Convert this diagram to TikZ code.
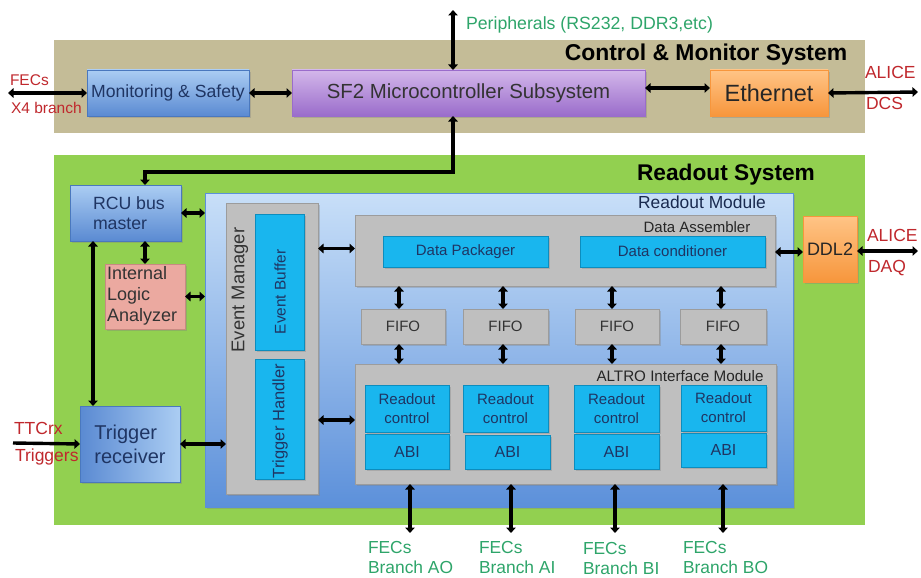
\documentclass[tikz,border=0pt]{standalone}
\usepackage{fontspec}
\setmainfont{Liberation Sans}
\usetikzlibrary{arrows.meta,shadows}
\definecolor{tanbg}{HTML}{C4BC97}
\definecolor{greenbg}{HTML}{92D050}
\definecolor{blueT}{HTML}{ABCDF3}
\definecolor{blueB}{HTML}{5A8AD2}
\definecolor{blueD}{HTML}{4A78BE}
\definecolor{romT}{HTML}{C8DFF8}
\definecolor{romB}{HTML}{5C90DA}
\definecolor{purT}{HTML}{D3B7EA}
\definecolor{purB}{HTML}{9A6CCB}
\definecolor{oraT}{HTML}{FFC486}
\definecolor{oraB}{HTML}{F7963C}
\definecolor{grayF}{HTML}{BFBFBF}
\definecolor{grayD}{HTML}{9C9C9C}
\definecolor{cyanF}{HTML}{19B6EE}
\definecolor{cyanD}{HTML}{0C8DBE}
\definecolor{pinkF}{HTML}{EBA9A0}
\definecolor{pinkD}{HTML}{C98A82}
\definecolor{navy}{HTML}{1F3563}
\definecolor{redtxt}{HTML}{C0282D}
\definecolor{greentxt}{HTML}{2EA56A}
\definecolor{darktxt}{HTML}{333333}
\begin{document}
\begin{tikzpicture}[x=1pt,y=-1pt,
  every node/.style={inner sep=0pt, outer sep=0pt},
  shad/.style={drop shadow={shadow xshift=2pt, shadow yshift=-2pt, opacity=0.35}},
  bg/.style={rectangle},
  bluebox/.style={rectangle, shad, top color=blueT, bottom color=blueB, draw=blueD, line width=0.6pt},
  trgbox/.style={rectangle, shad, left color=blueB, right color=blueT, draw=blueD, line width=0.6pt},
  purbox/.style={rectangle, shad, top color=purT, bottom color=purB, draw=purB, line width=0.6pt},
  orabox/.style={rectangle, shad, top color=oraT, bottom color=oraB, draw=oraB, line width=0.6pt},
  romstyle/.style={rectangle, shad, top color=romT, bottom color=romB, draw=romB, line width=0.6pt},
  graybox/.style={rectangle, shad, fill=grayF, draw=grayD, line width=0.8pt},
  cyanbox/.style={rectangle, shad, fill=cyanF, draw=cyanD, line width=0.8pt, text=navy, font=\fontsize{15}{19}\selectfont, align=center},
  pinkbox/.style={rectangle, shad, fill=pinkF, draw=pinkD, line width=0.6pt},
  biarrow/.style={line width=3.4pt, {Triangle[length=5.5pt,width=9.5pt]}-{Triangle[length=5.5pt,width=9.5pt]}},
  onearrow/.style={line width=3.4pt, -{Triangle[length=5.5pt,width=9.5pt]}},
  redlbl/.style={text=redtxt, font=\fontsize{17.5}{20}\selectfont},
  redlbls/.style={text=redtxt, font=\fontsize{15.5}{18}\selectfont},
  greenlbl/.style={text=greentxt, font=\fontsize{17.4}{20.5}\selectfont, align=left},
]
\useasboundingbox (0,0) rectangle (921,578);
\fill[white] (0,0) rectangle (921,578);

% backgrounds
\node[bg, fill=tanbg, minimum width=811pt, minimum height=93pt] (cms) at (459.5,86.5) {};
\node[bg, fill=greenbg, minimum width=811pt, minimum height=370pt] (ros) at (459.5,340) {};
\node[font=\bfseries\fontsize{22.9}{25}\selectfont] (cmst) at (706,55) {Control \& Monitor System};
\node[font=\bfseries\fontsize{22.7}{25}\selectfont] (rost) at (726,175) {Readout System};

% control & monitor
\node[bluebox, minimum width=162pt, minimum height=46pt, text=navy, font=\fontsize{17.6}{20}\selectfont] (mon) at (168,93) {Monitoring \& Safety};
\node[purbox, minimum width=353pt, minimum height=46pt, text=darktxt, font=\fontsize{20.4}{23}\selectfont] (sf2) at (468.5,93) {SF2 Microcontroller Subsystem};
\node[orabox, minimum width=118pt, minimum height=46pt, text=black!85, font=\fontsize{23.5}{25}\selectfont] (eth) at (769,93) {Ethernet};

\node[greenlbl, font=\fontsize{17.7}{20}\selectfont] (peri) at (589.5,25) {Peripherals (RS232, DDR3,etc)};
\node[redlbls, anchor=west] (fecl1) at (10,80) {FECs};
\node[redlbls, anchor=west] (fecl2) at (11,108) {X4 branch};
\node[redlbl, anchor=west] (alice1) at (865,72) {ALICE};
\node[redlbl, anchor=west] (dcs) at (866,103) {DCS};

\coordinate (fecend) at (8,93);
\coordinate (dcsend) at (918,92);
\coordinate (periend) at (453,10);
\coordinate (bend) at (145,172);

% readout system left
\node[bluebox, minimum width=111pt, minimum height=56pt] (rcu) at (125.5,213) {};
\node[anchor=west, text=navy, font=\fontsize{17.7}{20.5}\selectfont, align=left] (rcut) at (93,213) {RCU bus\\master};
\node[pinkbox, minimum width=80pt, minimum height=65pt] (ila) at (145,296.5) {};
\node[anchor=west, text=darktxt, font=\fontsize{18}{21}\selectfont, align=left] (ilat) at (107,295.5) {Internal\\Logic\\Analyzer};
\node[trgbox, minimum width=100pt, minimum height=76pt, text=navy, font=\fontsize{20}{24}\selectfont, align=left] (trg) at (130,444) {Trigger\\receiver};
\node[redlbl, anchor=west] (ttc) at (14,428) {TTCrx};
\node[redlbl, anchor=west] (trgl) at (15,457) {Triggers};
\coordinate (ttcend) at (13,443);

% readout module
\node[romstyle, minimum width=588pt, minimum height=314pt] (rom) at (499,350) {};
\node[text=navy!80!black, font=\fontsize{17.4}{19}\selectfont] (romt) at (702,202) {Readout Module};

\node[graybox, minimum width=92pt, minimum height=291pt] (em) at (272,348.5) {};
\node[rotate=90, text=darktxt, font=\fontsize{18.4}{20}\selectfont] (emt) at (240,290) {Event Manager};
\node[cyanbox, minimum width=49pt, minimum height=136pt] (eb) at (279.5,282) {};
\node[rotate=90, text=navy, font=\fontsize{15.4}{17}\selectfont] (ebt) at (280,292) {Event Buffer};
\node[cyanbox, minimum width=49pt, minimum height=120pt] (th) at (279.5,419) {};
\node[rotate=90, text=navy, font=\fontsize{16.5}{18}\selectfont] (tht) at (280,421) {Trigger Handler};

\node[graybox, minimum width=420pt, minimum height=71pt] (da) at (565,250.5) {};
\node[font=\fontsize{15}{17}\selectfont, text=black!85] (dat) at (697,227) {Data Assembler};
\node[cyanbox, minimum width=165pt, minimum height=31pt] (dp) at (465.5,251.5) {Data Packager};
\node[cyanbox, minimum width=185pt, minimum height=31pt] (dc) at (672.5,251.5) {Data conditioner};

\node[orabox, minimum width=54pt, minimum height=66pt, font=\fontsize{18}{20}\selectfont, text=black!85] (ddl) at (830,249) {DDL2};
\node[redlbl, anchor=west] (alice2) at (867,235) {ALICE};
\node[redlbl, anchor=west] (daq) at (868,268) {DAQ};
\coordinate (daqend) at (918,251);

\foreach \n/\cx/\w in {fifo1/403/84, fifo2/505.5/85, fifo3/617/84, fifo4/723/86}
  \node[graybox, minimum width=\w pt, minimum height=35pt, text=darktxt, font=\fontsize{15}{17}\selectfont] (\n) at (\cx,326.5) {FIFO};

\node[graybox, minimum width=421pt, minimum height=120pt] (aim) at (565.5,424) {};
\node[font=\fontsize{15.2}{17}\selectfont, text=black!85] (aimt) at (680,376) {ALTRO Interface Module};

\node[cyanbox, minimum width=84pt, minimum height=47pt] (rc1) at (407,408.5) {Readout\\control};
\node[cyanbox, minimum width=84pt, minimum height=35pt, font=\fontsize{16}{18}\selectfont] (abi1) at (407,451.5) {ABI};
\node[cyanbox, minimum width=85pt, minimum height=47pt] (rc2) at (505.5,408.5) {Readout\\control};
\node[cyanbox, minimum width=85pt, minimum height=34pt, font=\fontsize{16}{18}\selectfont] (abi2) at (507.5,452) {ABI};
\node[cyanbox, minimum width=85pt, minimum height=47pt] (rc3) at (616.5,408.5) {Readout\\control};
\node[cyanbox, minimum width=85pt, minimum height=35pt, font=\fontsize{16}{18}\selectfont] (abi3) at (616.5,451.5) {ABI};
\node[cyanbox, minimum width=85pt, minimum height=46pt] (rc4) at (723.5,408) {Readout\\control};
\node[cyanbox, minimum width=85pt, minimum height=34pt, font=\fontsize{16}{18}\selectfont] (abi4) at (723.5,450) {ABI};

% FEC labels and arrow ends
\node[greenlbl, anchor=north west] (fa) at (368,541) {FECs\\Branch AO};
\node[greenlbl, anchor=north west] (fb) at (479,541) {FECs\\Branch AI};
\node[greenlbl, anchor=north west] (fc) at (583,542) {FECs\\Branch BI};
\node[greenlbl, anchor=north west] (fd) at (683,541) {FECs\\Branch BO};
\coordinate (ea) at (410,533);
\coordinate (eb2) at (511,533);
\coordinate (ec) at (615,533);
\coordinate (ed) at (723,533);

% connectors
\draw[biarrow] (fecend) -- (mon.west);
\draw[biarrow] (mon.east) -- (sf2.west);
\draw[biarrow] ([yshift=5pt]sf2.east) -- ([yshift=5pt]eth.west);
\draw[biarrow] (eth.east) -- (dcsend);
\draw[biarrow] (periend) -- (periend |- sf2.north);
\draw[biarrow] (periend |- sf2.south) |- (bend) -- (bend |- rcu.north);
\draw[biarrow] (ila.north) -- (ila.north |- rcu.south);
\draw[biarrow] (rcu.east) -- (rcu.east -| rom.west);
\draw[biarrow] (ila.east) -- (ila.east -| rom.west);
\draw[biarrow] (rcu.south -| 93,0) -- (trg.north -| 93,0);
\draw[onearrow] (ttcend) -- (trg.west);
\draw[biarrow] (trg.east) -- (trg.east -| em.west);
\draw[biarrow] ([yshift=2pt]da.west -| em.east) -- ([yshift=2pt]da.west);
\draw[biarrow] ([yshift=4pt]aim.west -| em.east) -- ([yshift=4pt]aim.west);
\draw[biarrow] ([yshift=-1.5pt]da.east) -- ([yshift=-1.5pt]da.east -| ddl.west);
\draw[biarrow] (ddl.east |- daqend) -- (daqend);
\foreach \f/\x in {fifo1/399, fifo2/503, fifo3/612, fifo4/721}{
  \draw[biarrow] (\f.north -| \x,0) -- (da.south -| \x,0);
  \draw[biarrow] (\f.south -| \x,0) -- (aim.north -| \x,0);
}
\draw[biarrow] (aim.south -| ea) -- (ea);
\draw[biarrow] (aim.south -| eb2) -- (eb2);
\draw[biarrow] (aim.south -| ec) -- (ec);
\draw[biarrow] (aim.south -| ed) -- (ed);
\end{tikzpicture}
\end{document}
